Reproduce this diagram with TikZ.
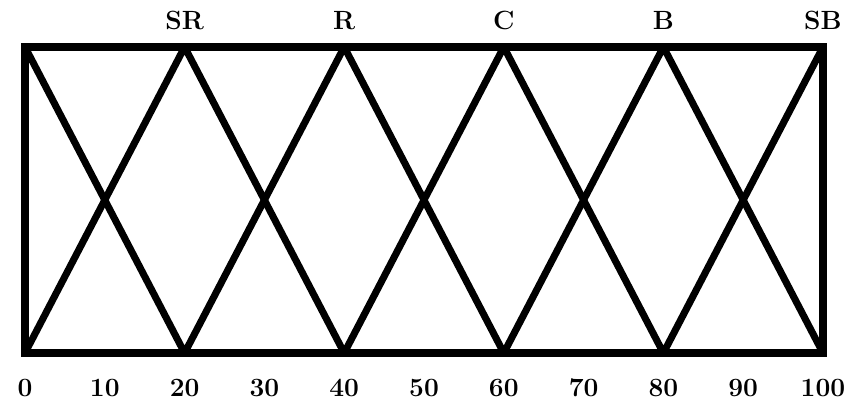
\documentclass[tikz,border=0pt]{standalone}
\usepackage{tikz}
\usetikzlibrary{positioning}

\begin{document}
\begin{tikzpicture}[
        x=0.02cm, y=-0.02cm,
        heavy/.style={draw, line width=4pt, line join=round},
        setname/.style={font=\fontsize{15}{17}\selectfont\bfseries, inner sep=0pt},
        tick/.style={font=\fontsize{15}{17}\selectfont\bfseries, inner sep=0pt, anchor=base}
    ]
    \useasboundingbox (0,0) rectangle (860,403);

    % Corner points of the fuzzy sets
    \foreach \i in {0,...,5} {
        \coordinate (t\i) at (25+159.6*\i, 47);
        \coordinate (b\i) at (25+159.6*\i, 353);
    }

    % Frame
    \draw[heavy, line join=miter] (t0) rectangle (b5);

    % Membership triangles
    \draw[heavy] (b0) -- (t1) -- (b2) -- (t3) -- (b4) -- (t5);
    \draw[heavy] (t0) -- (b1) -- (t2) -- (b3) -- (t4) -- (b5);

    % Set names above the peaks
    \node[setname, above=9.6pt of t1] (sr) {SR};
    \node[setname, above=9.6pt of t2] (r) {R};
    \node[setname, above=9.6pt of t3] (c) {C};
    \node[setname, above=9.6pt of t4] (bg) {B};
    \node[setname, above=9.6pt of t5] (sb) {SB};

    % Axis values
    \foreach \v [count=\k from 0] in {0,10,...,100}
        \node[tick] (v\v) at (25+79.8*\k, 396) {\v};

\end{tikzpicture}
\end{document}
